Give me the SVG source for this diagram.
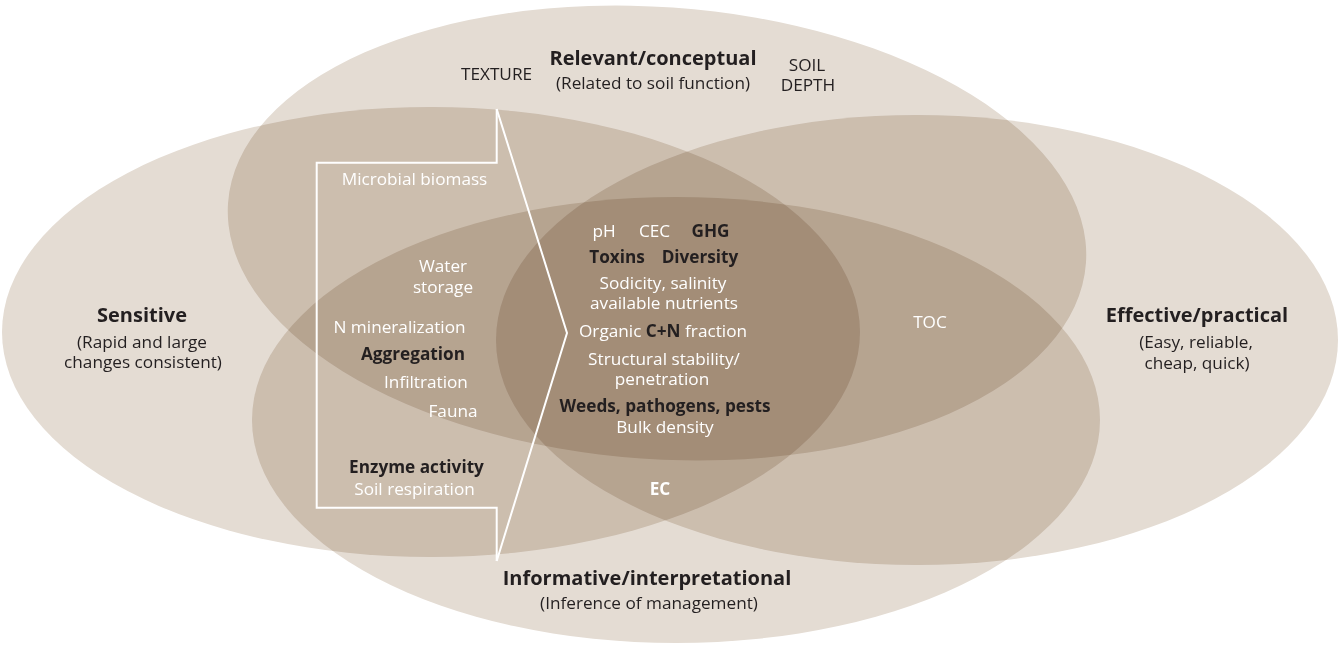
<svg xmlns="http://www.w3.org/2000/svg" width="1342" height="646" viewBox="0 0 1342 646">
<style>
  .set { fill: #e4dcd3; mix-blend-mode: multiply; }
  text { font-family: "Open Sans", "Noto Sans", sans-serif; font-size: 17.2px; }
  .w { fill: #ffffff; }
  .d { fill: #231f20; }
  .b { font-weight: bold; }
  .h { font-size: 20px; font-weight: bold; fill: #231f20; }
  .m { text-anchor: middle; }
  .conn { fill: none; stroke: #ffffff; stroke-width: 2; }
</style>
<rect width="1342" height="646" fill="#ffffff"/>
<g id="sets" style="isolation:isolate">
  <g id="sensitive"><ellipse class="set" cx="431" cy="332" rx="429" ry="225"/></g>
  <g id="effective"><ellipse class="set" cx="917" cy="340" rx="421" ry="225"/></g>
  <g id="relevant"><ellipse class="set" cx="657" cy="233" rx="430" ry="226" transform="rotate(4 657 233)"/></g>
  <g id="informative"><ellipse class="set" cx="676" cy="420" rx="424" ry="223"/></g>
</g>
<g id="connectors">
  <polyline class="conn" points="496.7,109 496.7,162.7 316.7,162.7 316.7,507.7 496.7,507.7 496.7,561"/>
  <polyline class="conn" points="496.7,109 567,333 496.7,561"/>
</g>
<g id="label-relevant">
  <text class="h m" x="653" y="65">Relevant/conceptual</text>
  <text class="d m" x="653" y="89">(Related to soil function)</text>
  <text class="d m" x="496.5" y="80">TEXTURE</text>
  <text class="d m" x="807" y="71">SOIL</text>
  <text class="d m" x="808" y="91">DEPTH</text>
</g>
<g id="label-sensitive">
  <text class="h m" x="142" y="322">Sensitive</text>
  <text class="d m" x="142" y="348">(Rapid and large</text>
  <text class="d m" x="143" y="368">changes consistent)</text>
</g>
<g id="label-effective">
  <text class="h m" x="1197" y="322">Effective/practical</text>
  <text class="d m" x="1196" y="348">(Easy, reliable,</text>
  <text class="d m" x="1197" y="369">cheap, quick)</text>
</g>
<g id="label-informative">
  <text class="h m" x="647" y="585">Informative/interpretational</text>
  <text class="d m" x="649" y="609">(Inference of management)</text>
</g>
<g id="left-items">
  <text class="w m" x="414.5" y="185">Microbial biomass</text>
  <text class="w m" x="443" y="272">Water</text>
  <text class="w m" x="443" y="293">storage</text>
  <text class="w m" x="399.5" y="333">N mineralization</text>
  <text class="d b m" x="413" y="360">Aggregation</text>
  <text class="w m" x="426" y="388">Infiltration</text>
  <text class="w m" x="453" y="417">Fauna</text>
  <text class="d b m" x="416.5" y="473">Enzyme activity</text>
  <text class="w m" x="414.5" y="495">Soil respiration</text>
</g>
<g id="center-items">
  <text class="w m" x="604" y="237">pH</text>
  <text class="w m" x="654.5" y="237">CEC</text>
  <text class="d b m" x="710.5" y="237">GHG</text>
  <text class="d b m" x="617" y="263">Toxins</text>
  <text class="d b m" x="700" y="263">Diversity</text>
  <text class="w m" x="663" y="289">Sodicity, salinity</text>
  <text class="w m" x="664" y="309">available nutrients</text>
  <text class="w m" x="663" y="337">Organic <tspan class="d b">C+N</tspan> fraction</text>
  <text class="w m" x="664" y="365">Structural stability/</text>
  <text class="w m" x="662" y="385">penetration</text>
  <text class="d b m" x="665" y="412">Weeds, pathogens, pests</text>
  <text class="w m" x="665" y="433">Bulk density</text>
</g>
<g id="other-items">
  <text class="w m" x="930" y="328">TOC</text>
  <text class="w b m" x="660" y="495">EC</text>
</g>
</svg>
